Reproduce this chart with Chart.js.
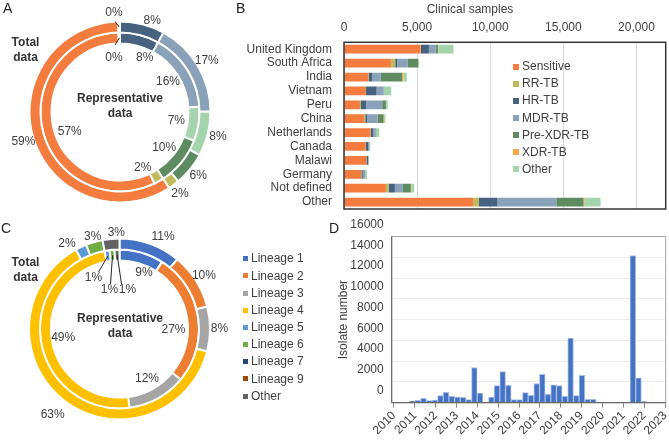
<!DOCTYPE html>
<html>
<head>
<meta charset="utf-8">
<script src="https://cdn.jsdelivr.net/npm/chart.js@4.4.1/dist/chart.umd.min.js"></script>
<style>
  html, body { margin: 0; padding: 0; background: #fff; }
  #fig { position: relative; width: 669px; height: 441px; overflow: hidden;
         font-family: "Liberation Sans", Arial, sans-serif; font-size: 12px; color: #404040; }
  #fig canvas, #fig .abs { position: absolute; }
  .tag { font-size: 14px; line-height: 14px; color: #222; }
  .ring { width: 51px; text-align: center; font-weight: bold; line-height: 15px; color: #333; }
  .mid { width: 120px; text-align: center; font-weight: bold; line-height: 15px; color: #333; }
  .legend div { white-space: nowrap; }
  .legend span { display: inline-block; vertical-align: middle; }
</style>
</head>
<body>
<div id="fig">
  <canvas id="chartA" width="240" height="220" style="left:0;top:2px"></canvas>
  <canvas id="chartB" width="437" height="220" style="left:232px;top:0"></canvas>
  <canvas id="chartC" width="239" height="220" style="left:0;top:219px"></canvas>
  <canvas id="chartD" width="339" height="223" style="left:330px;top:218px"></canvas>

  <div class="abs tag" style="left:3px;top:1px">A</div>
  <div class="abs tag" style="left:236px;top:1px">B</div>
  <div class="abs tag" style="left:1px;top:221px">C</div>
  <div class="abs tag" style="left:329px;top:221px">D</div>

  <div class="abs ring" style="left:0;top:34.6px">Total<br>data</div>
  <div class="abs mid" style="left:60px;top:91px">Representative<br>data</div>
  <div class="abs ring" style="left:0;top:254.6px">Total<br>data</div>
  <div class="abs mid" style="left:60px;top:310.6px">Representative<br>data</div>

  <div class="abs" style="left:400px;top:3px;width:140px;text-align:center;line-height:12px">Clinical samples</div>
  <div class="abs legend" id="legendB" style="left:513px;top:57.8px;line-height:16.4px"></div>
  <div class="abs legend" id="legendC" style="left:243px;top:250px;line-height:16.67px"></div>
</div>
<script>
// Panels A and B: drug-resistance categories
const resistance = ['Sensitive', 'RR-TB', 'HR-TB', 'MDR-TB', 'Pre-XDR-TB', 'XDR-TB', 'Other'];
const resColors = ['#F47C3F', '#BFBA5C', '#46627F', '#89A2BA', '#5E8B5F', '#F9A841', '#A3D4AB'];

// Panel A: categories in the order they sit on the rings (clockwise from 12 o'clock), in %
const ringOrderA = ['HR-TB', 'MDR-TB', 'Other', 'Pre-XDR-TB', 'RR-TB', 'Sensitive', 'XDR-TB'];
const totalDataA = [8, 17, 8, 6, 2, 59, 0.3];
const reprDataA = [8, 16, 7, 10, 2, 57, 0.3];

// Panel B: clinical samples per country
const countries = ['United Kingdom', 'South Africa', 'India', 'Vietnam', 'Peru', 'China',
  'Netherlands', 'Canada', 'Malawi', 'Germany', 'Not defined', 'Other'];
const sensitive = [5236, 3208, 1660, 1480, 1090, 1365, 1820, 1480, 1525, 1183, 2867, 8830];
const rrTb      = [30, 295, 20, 0, 70, 90, 15, 10, 10, 10, 180, 385];
const hrTb      = [540, 137, 250, 750, 340, 137, 160, 180, 115, 90, 430, 1275];
const mdrTb     = [457, 730, 570, 480, 1115, 705, 180, 50, 10, 160, 545, 4030];
const preXdrTb  = [157, 705, 1480, 20, 250, 410, 20, 10, 10, 10, 545, 1865];
const xdrTb     = [20, 10, 90, 0, 10, 40, 0, 0, 0, 0, 30, 70];
const otherTb   = [1044, 45, 230, 500, 110, 90, 215, 60, 40, 110, 205, 1090];
const xTicksB = [0, 5000, 10000, 15000, 20000];

// Panel C: lineages, in %
const lineages = ['Lineage 1', 'Lineage 2', 'Lineage 3', 'Lineage 4', 'Lineage 5',
  'Lineage 6', 'Lineage 7', 'Lineage 9', 'Other'];
const linColors = ['#4472C4', '#ED7D31', '#A5A5A5', '#FFC000', '#5B9BD5',
  '#70AD47', '#264478', '#9E480E', '#636363'];
const totalDataC = [11, 10, 8, 63, 2, 3, 0, 0, 3];
const reprDataC = [9, 27, 12, 49, 1, 1, 0, 0, 1];

// Panel D: collection date bins (bin centre, decimal year) and isolate counts
const binYear = [2010.870, 2011.141, 2011.413, 2011.684, 2011.956, 2012.227, 2012.498,
  2012.770, 2013.041, 2013.313, 2013.584, 2013.855, 2014.127, 2014.398, 2014.670,
  2014.941, 2015.212, 2015.484, 2015.755, 2016.027, 2016.298, 2016.569, 2016.841,
  2017.112, 2017.384, 2017.655, 2017.926, 2018.198, 2018.469, 2018.741, 2019.012,
  2019.284, 2019.555, 2019.826, 2020.098, 2020.369, 2020.641, 2020.912, 2021.183,
  2021.455, 2021.727, 2021.998];
const isolates = [160, 225, 420, 195, 260, 680, 1000, 615, 550, 516, 290, 3390, 935, 30,
  550, 1645, 3000, 1675, 290, 300, 970, 710, 1840, 2740, 805, 1710, 1645, 615, 6230,
  680, 2645, 325, 325, 0, 0, 0, 0, 0, 0, 14170, 2390, 100];
const yearTicks = [2010, 2011, 2012, 2013, 2014, 2015, 2016, 2017, 2018, 2019, 2020, 2021, 2022, 2023];

Chart.defaults.font.family = '"Liberation Sans", Arial, sans-serif';
Chart.defaults.font.size = 12;
Chart.defaults.color = '#404040';
Chart.defaults.animation = false;

// percentage labels around the rings
const ringLabels = {
  id: 'ringLabels',
  afterDatasetsDraw(chart, args, opts) {
    const ctx = chart.ctx;
    ctx.save();
    ctx.font = '12px "Liberation Sans", Arial, sans-serif';
    ctx.fillStyle = '#404040';
    ctx.strokeStyle = '#222';
    ctx.lineWidth = 1;
    ctx.textAlign = 'center';
    ctx.textBaseline = 'middle';
    chart.data.datasets.forEach((ds, di) => {
      const total = ds.data.reduce((a, b) => a + b, 0);
      chart.getDatasetMeta(di).data.forEach((arc, i) => {
        const v = ds.data[i];
        if (!v) return;
        const text = Math.round(v / total * 100) + '%';
        const p = arc.getProps(['x', 'y', 'startAngle', 'endAngle', 'innerRadius', 'outerRadius'], true);
        const key = di + ':' + i;
        const adj = (opts.adjust || {})[key] || {};
        const mid = (p.startAngle + p.endAngle) / 2 + (adj.da || 0) * Math.PI / 180;
        const lead = (opts.leaders || {})[key];
        if (lead) {
          const rm = (p.innerRadius + p.outerRadius) / 2;
          ctx.beginPath();
          ctx.moveTo(p.x + Math.cos(mid) * rm, p.y + Math.sin(mid) * rm);
          ctx.lineTo(p.x + lead.lx, p.y + lead.ly);
          ctx.stroke();
          ctx.fillText(text, p.x + lead.tx, p.y + lead.ty);
        } else {
          const r = adj.r || opts.radius[di];
          ctx.fillText(text, p.x + Math.cos(mid) * r, p.y + Math.sin(mid) * r);
        }
      });
    });
    ctx.restore();
  }
};

// box around the plot area
const frame = {
  id: 'frame',
  afterDraw(chart, args, opts) {
    const {left, top, right, bottom} = chart.chartArea;
    const ctx = chart.ctx;
    ctx.save();
    ctx.lineWidth = opts.width;
    ctx.strokeStyle = opts.color;
    ctx.strokeRect(left, top, right - left, bottom - top);
    if (opts.axisColor) {
      ctx.strokeStyle = opts.axisColor;
      ctx.beginPath();
      ctx.moveTo(left, top);
      ctx.lineTo(left, bottom);
      ctx.lineTo(right, bottom);
      ctx.stroke();
    }
    ctx.restore();
  }
};

function ringChart(id, labels, colors, outer, inner, labelOpts) {
  return new Chart(document.getElementById(id), {
    type: 'doughnut',
    data: {
      labels: labels,
      datasets: [
        { label: 'Total data', data: outer, backgroundColor: colors, borderColor: '#fff', borderWidth: 2 },
        { label: 'Representative data', data: inner, backgroundColor: colors, borderColor: '#fff', borderWidth: 2 }
      ]
    },
    options: {
      responsive: false,
      radius: 90.5,
      cutout: '75.7%',
      plugins: {
        legend: { display: false },
        tooltip: { enabled: false },
        ringLabels: labelOpts
      }
    },
    plugins: [ringLabels]
  });
}

// A
ringChart('chartA', ringOrderA,
  ringOrderA.map(n => resColors[resistance.indexOf(n)]),
  totalDataA, reprDataA,
  {
    radius: [101, 57],
    adjust: {
      '0:0': { da: 5, r: 97 },
      '1:0': { da: 10, r: 60 },
      '1:4': { da: 7, r: 60 },
      '1:5': { da: -8, r: 54 }
    },
    leaders: {
      '0:6': { lx: -5, ly: -90.5, tx: -6, ty: -99.5 },
      '1:6': { lx: -5, ly: -67, tx: -6, ty: -54.5 }
    }
  });

// B
const seriesB = [sensitive, rrTb, hrTb, mdrTb, preXdrTb, xdrTb, otherTb];
new Chart(document.getElementById('chartB'), {
  type: 'bar',
  data: {
    labels: countries,
    datasets: resistance.map((name, k) => ({
      label: name,
      data: seriesB[k],
      backgroundColor: resColors[k],
      borderWidth: 0,
      barPercentage: 0.63,
      categoryPercentage: 1
    }))
  },
  options: {
    responsive: false,
    indexAxis: 'y',
    layout: { padding: { left: 0, top: 0, right: 3.3, bottom: 11 } },
    scales: {
      x: {
        position: 'top',
        stacked: true,
        min: 0,
        max: 22000,
        afterBuildTicks: s => { s.ticks = xTicksB.map(v => ({ value: v })); },
        afterFit: s => { s.height = 42.3; s.paddingLeft = 0; s.paddingRight = 0; },
        ticks: { padding: 7, callback: v => v.toLocaleString('en-US') },
        grid: { color: '#d9d9d9', drawTicks: false },
        border: { display: false }
      },
      y: {
        stacked: true,
        afterFit: s => { s.width = 112; s.paddingTop = 0; s.paddingBottom = 0; },
        ticks: { padding: 12, autoSkip: false },
        grid: { display: false, drawTicks: false },
        border: { display: false }
      }
    },
    plugins: {
      legend: { display: false },
      tooltip: { enabled: false },
      frame: { color: '#333', width: 1.5 }
    }
  },
  plugins: [frame]
});

// C
ringChart('chartC', lineages, linColors, totalDataC, reprDataC, {
  radius: [100, 57],
  adjust: {
    '0:0': { da: 5.5, r: 102 },
    '0:3': { r: 109 },
    '0:4': { da: -6.5 },
    '0:5': { r: 96 },
    '0:8': { da: 3.5, r: 96 },
    '1:0': { da: 7.5, r: 61 },
    '1:1': { da: 10, r: 54 }
  },
  leaders: {
    '1:4': { lx: -21, ly: -57, tx: -26, ty: -51 },
    '1:5': { lx: -9, ly: -45, tx: -10, ty: -39.5 },
    '1:8': { lx: 2, ly: -45, tx: 8, ty: -39.5 }
  }
});

// D
new Chart(document.getElementById('chartD'), {
  type: 'bar',
  data: {
    datasets: [{
      label: 'Isolate number',
      data: binYear.map((x, i) => ({ x: x, y: isolates[i] })),
      backgroundColor: '#4472C4',
      borderColor: '#A7BDE6',
      borderWidth: 1,
      barPercentage: 1,
      categoryPercentage: 1
    }]
  },
  options: {
    responsive: false,
    layout: { padding: { left: 6, top: 18.5, right: 3.3, bottom: 0 } },
    scales: {
      x: {
        type: 'linear',
        offset: false,
        min: 2009.89,
        max: 2023.03,
        afterBuildTicks: s => { s.ticks = yearTicks.map(v => ({ value: v })); },
        afterFit: s => { s.height = 38.3; s.paddingLeft = 0; s.paddingRight = 0; },
        ticks: { autoSkip: false, minRotation: 45, maxRotation: 45, padding: 1, callback: v => String(v) },
        grid: { offset: false, drawOnChartArea: false, drawTicks: true, tickLength: 5, color: '#8c8c8c' },
        border: { display: false }
      },
      y: {
        min: 0,
        max: 16000,
        afterFit: s => { s.width = 55.7; s.paddingTop = 0; s.paddingBottom = 0; },
        ticks: { stepSize: 2000, padding: 8, labelOffset: -12, callback: v => String(v) },
        grid: { color: '#ececec', drawTicks: false },
        border: { display: false },
        title: { display: true, text: 'Isolate number', padding: 0, font: { size: 12 } }
      }
    },
    plugins: {
      legend: { display: false },
      tooltip: { enabled: false },
      frame: { color: '#a6a6a6', width: 1, axisColor: '#595959' }
    }
  },
  plugins: [frame]
});

// HTML legends for B and C
function buildLegend(id, names, colors, size) {
  const box = document.getElementById(id);
  names.forEach((n, k) => {
    const row = document.createElement('div');
    const sw = document.createElement('span');
    sw.style.cssText = 'width:' + size + 'px;height:' + size + 'px;margin-right:3px;background:' + colors[k];
    const tx = document.createElement('span');
    tx.textContent = n;
    row.appendChild(sw);
    row.appendChild(tx);
    box.appendChild(row);
  });
}
buildLegend('legendB', resistance, resColors, 6);
buildLegend('legendC', lineages, linColors, 5);
</script>
</body>
</html>
